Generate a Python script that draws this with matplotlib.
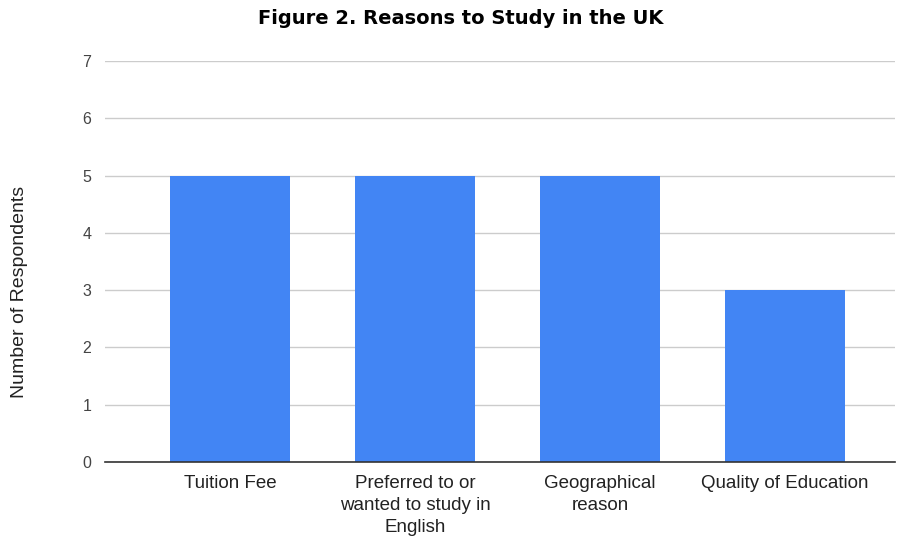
import matplotlib
matplotlib.use("Agg")
from matplotlib import pyplot as plt

reasons = [
    "Tuition Fee",
    "Preferred to or\nwanted to study in\nEnglish",
    "Geographical\nreason",
    "Quality of Education",
]
respondents = [5, 5, 5, 3]
y_ticks = [0, 1, 2, 3, 4, 5, 6, 7]

plt.rcParams["font.family"] = ["Liberation Sans", "DejaVu Sans"]

fig = plt.figure(figsize=(9, 5.42), dpi=100)
ax = fig.add_axes([0.1167, 0.1476, 0.8778, 0.7399])

ax.bar(range(len(reasons)), respondents, width=0.65, color="#4285F4", zorder=3)

ax.set_xlim(-0.676, 3.595)
ax.set_ylim(0, 7)
ax.set_yticks(y_ticks)
ax.set_xticks(range(len(reasons)))
ax.set_xticklabels(reasons, fontsize=13.5, color="#222222", linespacing=1.42)
ax.tick_params(axis="y", labelsize=11.5, labelcolor="#444444", length=0, pad=10)
ax.tick_params(axis="x", length=0, pad=9)

ax.grid(axis="y", color="#cccccc", linewidth=1, zorder=0)
for side in ["top", "right", "left"]:
    ax.spines[side].set_visible(False)
ax.spines["bottom"].set_color("#333333")
ax.spines["bottom"].set_linewidth(1.2)
ax.spines["bottom"].set_zorder(4)

fig.text(20 / 900, 1 - 292 / 542, "Number of Respondents", rotation=90,
         ha="center", va="center", fontsize=14, color="#222222")
fig.text(461 / 900, 1 - 18 / 542, "Figure 2. Reasons to Study in the UK", ha="center",
         va="center", fontsize=14, fontweight="bold", color="#000000",
         family="DejaVu Sans")

fig.savefig("out.png", dpi=100)
